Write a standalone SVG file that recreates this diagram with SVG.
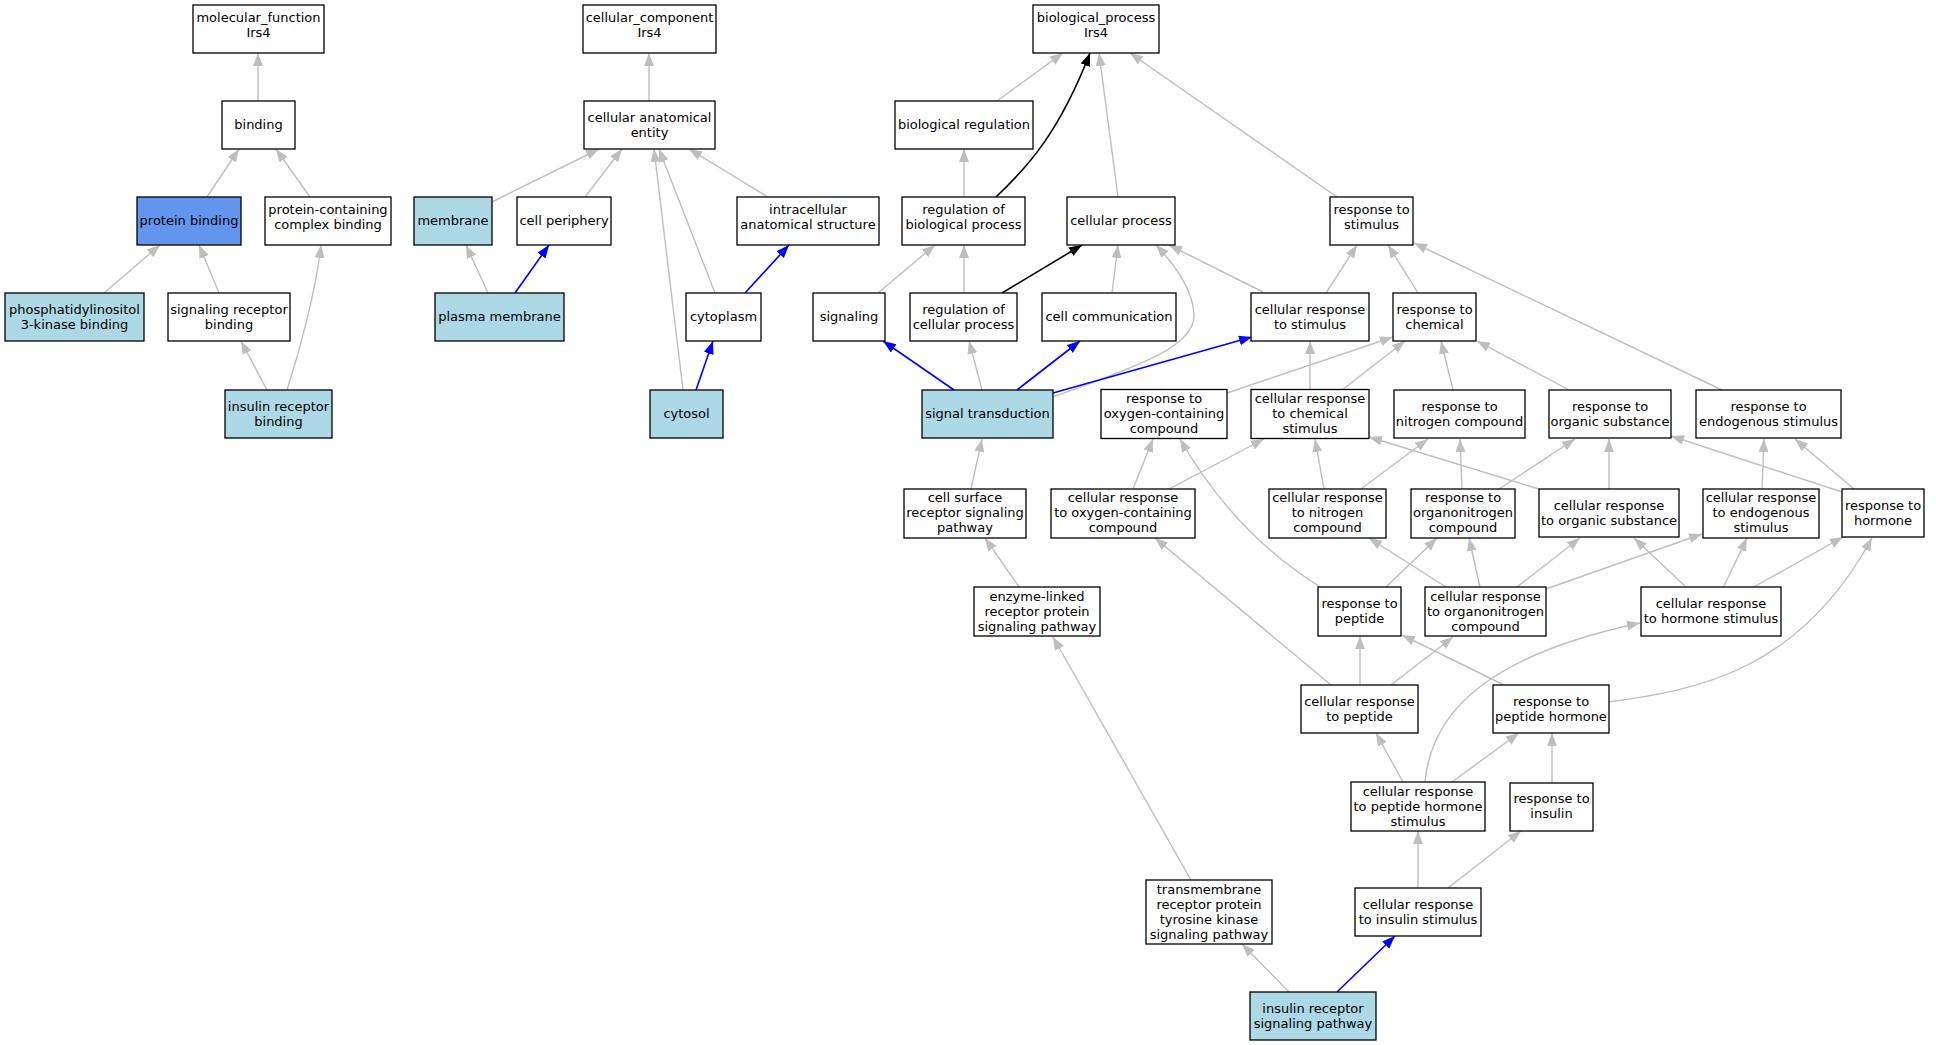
<svg xmlns="http://www.w3.org/2000/svg" width="1936" height="1045" viewBox="0 0 1936 1045">
<style>
.n rect{fill:#fff;stroke:#000;stroke-width:1.3}
.n.lb rect{fill:#add8e6}
.n.cb rect{fill:#6495ed}
.n text{font-family:"DejaVu Sans",sans-serif;font-size:13px;fill:#000;text-anchor:middle}
.e{fill:none;stroke:#bebebe;stroke-width:1.4;marker-end:url(#ag)}
.eb{fill:none;stroke:#0000ff;stroke-width:1.6;marker-end:url(#ab)}
.ek{fill:none;stroke:#000;stroke-width:1.6;marker-end:url(#ak)}
</style>
<defs>
<marker id="ag" markerUnits="userSpaceOnUse" markerWidth="14" markerHeight="11" refX="13" refY="5" orient="auto"><path d="M0,0L13,5L0,10z" fill="#bebebe"/></marker>
<marker id="ab" markerUnits="userSpaceOnUse" markerWidth="14" markerHeight="11" refX="13" refY="5" orient="auto"><path d="M0,0L13,5L0,10z" fill="#0000ff"/></marker>
<marker id="ak" markerUnits="userSpaceOnUse" markerWidth="14" markerHeight="11" refX="13" refY="5" orient="auto"><path d="M0,0L13,5L0,10z" fill="#000"/></marker>
</defs>
<rect width="1936" height="1045" fill="#fff"/>
<g id="edges">
<path class="e" d="M258,101L258,53"/>
<path class="e" d="M207,197L239,149"/>
<path class="e" d="M310,197L276,149"/>
<path class="e" d="M104,293L160,245"/>
<path class="e" d="M219,293L199,245"/>
<path class="e" d="M267,390L241,341"/>
<path class="e" d="M287,390C300,350 316,290 321,245"/>
<path class="e" d="M649,101L649,53"/>
<path class="e" d="M492,202L599,149"/>
<path class="e" d="M585,197L622,149"/>
<path class="e" d="M768,197L689,149"/>
<path class="e" d="M715,293L659,149"/>
<path class="e" d="M683,390L654,149"/>
<path class="e" d="M488,293L466,245"/>
<path class="eb" d="M515,293L549,245"/>
<path class="eb" d="M745,293L789,245"/>
<path class="eb" d="M696,390L713,341"/>
<path class="e" d="M997,101L1063,53"/>
<path class="ek" d="M996,197C1030,165 1060,130 1090,53"/>
<path class="e" d="M1118,197L1099,53"/>
<path class="e" d="M1337,197L1130,53"/>
<path class="e" d="M964,197L964,149"/>
<path class="e" d="M878,293L935,245"/>
<path class="e" d="M964,293L964,245"/>
<path class="ek" d="M1002,293L1082,245"/>
<path class="e" d="M1112,293L1118,245"/>
<path class="e" d="M1053,397C1120,372 1195,350 1194,315C1193,290 1175,265 1156,245"/>
<path class="e" d="M1263,292L1169,245"/>
<path class="eb" d="M954,390L883,341"/>
<path class="e" d="M982,390L969,341"/>
<path class="eb" d="M1017,390L1080,341"/>
<path class="eb" d="M1053,393L1252,337"/>
<path class="e" d="M1326,293L1357,245"/>
<path class="e" d="M1418,293L1388,245"/>
<path class="e" d="M1722,390L1414,243"/>
<path class="e" d="M1227,393L1393,337"/>
<path class="e" d="M1310,390L1310,341"/>
<path class="e" d="M1342,390L1405,341"/>
<path class="e" d="M1453,390L1441,341"/>
<path class="e" d="M1569,390L1477,341"/>
<path class="e" d="M971,489L982,439"/>
<path class="e" d="M1133,489L1153,439"/>
<path class="e" d="M1169,489L1264,439"/>
<path class="e" d="M1322,588C1260,550 1215,500 1180,439"/>
<path class="e" d="M1324,489L1315,439"/>
<path class="e" d="M1361,489L1428,439"/>
<path class="e" d="M1539,489L1369,437"/>
<path class="e" d="M1462,489L1460,439"/>
<path class="e" d="M1499,489L1575,439"/>
<path class="e" d="M1609,489L1609,439"/>
<path class="e" d="M1842,492L1671,436"/>
<path class="e" d="M1762,489L1764,439"/>
<path class="e" d="M1854,489L1795,439"/>
<path class="e" d="M1385,588L1437,538"/>
<path class="e" d="M1446,587L1369,538"/>
<path class="e" d="M1480,587L1469,538"/>
<path class="e" d="M1517,587L1580,538"/>
<path class="e" d="M1546,589L1702,534"/>
<path class="e" d="M1687,588L1634,538"/>
<path class="e" d="M1723,588L1747,538"/>
<path class="e" d="M1752,588L1843,537"/>
<path class="e" d="M1608,702C1700,690 1800,670 1872,538"/>
<path class="e" d="M1425,782C1432,710 1490,655 1640,623"/>
<path class="e" d="M1504,685L1402,635"/>
<path class="e" d="M1360,685L1360,636"/>
<path class="e" d="M1391,685L1453,637"/>
<path class="e" d="M1331,685L1155,538"/>
<path class="e" d="M1019,587L985,538"/>
<path class="e" d="M1191,880L1053,637"/>
<path class="e" d="M1403,782L1376,733"/>
<path class="e" d="M1452,782L1519,733"/>
<path class="e" d="M1552,783L1552,733"/>
<path class="e" d="M1418,888L1418,831"/>
<path class="e" d="M1448,888L1521,831"/>
<path class="e" d="M1289,992L1242,944"/>
<path class="eb" d="M1337,992L1395,936"/>
</g>
<g id="mf_root" class="n"><rect x="193" y="5" width="131" height="48"/><text><tspan x="258.5" y="21.5">molecular_function</tspan><tspan x="258.5" y="36.5">Irs4</tspan></text></g>
<g id="binding" class="n"><rect x="222" y="101" width="73" height="48"/><text x="258.5" y="129">binding</text></g>
<g id="protein_binding" class="n cb"><rect x="137" y="197" width="104" height="48"/><text x="189" y="225">protein binding</text></g>
<g id="pccb" class="n"><rect x="265" y="197" width="126" height="48"/><text><tspan x="328" y="213.5">protein-containing</tspan><tspan x="328" y="228.5">complex binding</tspan></text></g>
<g id="pi3k" class="n lb"><rect x="5" y="293" width="139" height="48"/><text><tspan x="74.5" y="313.5">phosphatidylinositol</tspan><tspan x="74.5" y="328.5">3-kinase binding</tspan></text></g>
<g id="srb" class="n"><rect x="168" y="293" width="122" height="48"/><text><tspan x="229" y="313.5">signaling receptor</tspan><tspan x="229" y="328.5">binding</tspan></text></g>
<g id="irb" class="n lb"><rect x="225" y="390" width="107" height="48"/><text><tspan x="278.5" y="410.5">insulin receptor</tspan><tspan x="278.5" y="425.5">binding</tspan></text></g>
<g id="cc_root" class="n"><rect x="583" y="5" width="133" height="48"/><text><tspan x="649.5" y="21.5">cellular_component</tspan><tspan x="649.5" y="36.5">Irs4</tspan></text></g>
<g id="cae" class="n"><rect x="584" y="101" width="131" height="48"/><text><tspan x="649.5" y="121.5">cellular anatomical</tspan><tspan x="649.5" y="136.5">entity</tspan></text></g>
<g id="membrane" class="n lb"><rect x="414" y="197" width="78" height="48"/><text x="453" y="225">membrane</text></g>
<g id="cell_periphery" class="n"><rect x="517" y="197" width="94" height="48"/><text x="564" y="225">cell periphery</text></g>
<g id="ias" class="n"><rect x="737" y="197" width="142" height="48"/><text><tspan x="808" y="213.5">intracellular</tspan><tspan x="808" y="228.5">anatomical structure</tspan></text></g>
<g id="plasma_membrane" class="n lb"><rect x="435" y="293" width="129" height="48"/><text x="499.5" y="321">plasma membrane</text></g>
<g id="cytoplasm" class="n"><rect x="686" y="293" width="75" height="48"/><text x="723.5" y="321">cytoplasm</text></g>
<g id="cytosol" class="n lb"><rect x="650" y="390" width="73" height="48"/><text x="686.5" y="418">cytosol</text></g>
<g id="bp_root" class="n"><rect x="1033" y="5" width="126" height="48"/><text><tspan x="1096" y="21.5">biological_process</tspan><tspan x="1096" y="36.5">Irs4</tspan></text></g>
<g id="bio_reg" class="n"><rect x="895" y="101" width="138" height="48"/><text x="964" y="129">biological regulation</text></g>
<g id="reg_bp" class="n"><rect x="902" y="197" width="123" height="48"/><text><tspan x="963.5" y="213.5">regulation of</tspan><tspan x="963.5" y="228.5">biological process</tspan></text></g>
<g id="cellular_process" class="n"><rect x="1067" y="197" width="108" height="48"/><text x="1121" y="225">cellular process</text></g>
<g id="resp_stim" class="n"><rect x="1330" y="197" width="83" height="48"/><text><tspan x="1371.5" y="213.5">response to</tspan><tspan x="1371.5" y="228.5">stimulus</tspan></text></g>
<g id="signaling" class="n"><rect x="813" y="293" width="72" height="48"/><text x="849" y="321">signaling</text></g>
<g id="reg_cp" class="n"><rect x="910" y="293" width="107" height="48"/><text><tspan x="963.5" y="313.5">regulation of</tspan><tspan x="963.5" y="328.5">cellular process</tspan></text></g>
<g id="cell_comm" class="n"><rect x="1042" y="293" width="134" height="48"/><text x="1109" y="321">cell communication</text></g>
<g id="cr_stim" class="n"><rect x="1251" y="293" width="118" height="48"/><text><tspan x="1310" y="313.5">cellular response</tspan><tspan x="1310" y="328.5">to stimulus</tspan></text></g>
<g id="resp_chem" class="n"><rect x="1393" y="293" width="83" height="48"/><text><tspan x="1434.5" y="313.5">response to</tspan><tspan x="1434.5" y="328.5">chemical</tspan></text></g>
<g id="signal_trans" class="n lb"><rect x="922" y="390" width="131" height="48"/><text x="987.5" y="418">signal transduction</text></g>
<g id="resp_oxy" class="n"><rect x="1101" y="389.5" width="126" height="49"/><text><tspan x="1164" y="403">response to</tspan><tspan x="1164" y="418">oxygen-containing</tspan><tspan x="1164" y="433">compound</tspan></text></g>
<g id="cr_chem" class="n"><rect x="1251" y="389.5" width="118" height="49"/><text><tspan x="1310" y="403">cellular response</tspan><tspan x="1310" y="418">to chemical</tspan><tspan x="1310" y="433">stimulus</tspan></text></g>
<g id="resp_nitro" class="n"><rect x="1394" y="390" width="131" height="48"/><text><tspan x="1459.5" y="410.5">response to</tspan><tspan x="1459.5" y="425.5">nitrogen compound</tspan></text></g>
<g id="resp_org" class="n"><rect x="1549" y="390" width="122" height="48"/><text><tspan x="1610" y="410.5">response to</tspan><tspan x="1610" y="425.5">organic substance</tspan></text></g>
<g id="resp_endo" class="n"><rect x="1696" y="390" width="145" height="48"/><text><tspan x="1768.5" y="410.5">response to</tspan><tspan x="1768.5" y="425.5">endogenous stimulus</tspan></text></g>
<g id="csrsp" class="n"><rect x="904" y="489" width="122" height="49"/><text><tspan x="965" y="502">cell surface</tspan><tspan x="965" y="517">receptor signaling</tspan><tspan x="965" y="532">pathway</tspan></text></g>
<g id="cr_oxy" class="n"><rect x="1051" y="489" width="144" height="49"/><text><tspan x="1123" y="502">cellular response</tspan><tspan x="1123" y="517">to oxygen-containing</tspan><tspan x="1123" y="532">compound</tspan></text></g>
<g id="cr_nitro" class="n"><rect x="1269" y="489" width="117" height="49"/><text><tspan x="1327.5" y="502">cellular response</tspan><tspan x="1327.5" y="517">to nitrogen</tspan><tspan x="1327.5" y="532">compound</tspan></text></g>
<g id="resp_orgn" class="n"><rect x="1411" y="489" width="104" height="49"/><text><tspan x="1463" y="502">response to</tspan><tspan x="1463" y="517">organonitrogen</tspan><tspan x="1463" y="532">compound</tspan></text></g>
<g id="cr_org" class="n"><rect x="1539" y="489" width="140" height="48"/><text><tspan x="1609" y="509.5">cellular response</tspan><tspan x="1609" y="524.5">to organic substance</tspan></text></g>
<g id="cr_endo" class="n"><rect x="1703" y="489" width="116" height="49"/><text><tspan x="1761" y="502">cellular response</tspan><tspan x="1761" y="517">to endogenous</tspan><tspan x="1761" y="532">stimulus</tspan></text></g>
<g id="resp_horm" class="n"><rect x="1842" y="489" width="82" height="48"/><text><tspan x="1883" y="509.5">response to</tspan><tspan x="1883" y="524.5">hormone</tspan></text></g>
<g id="elrpsp" class="n"><rect x="974" y="587" width="126" height="49"/><text><tspan x="1037" y="600.5">enzyme-linked</tspan><tspan x="1037" y="615.5">receptor protein</tspan><tspan x="1037" y="630.5">signaling pathway</tspan></text></g>
<g id="resp_pep" class="n"><rect x="1318" y="587" width="83" height="49"/><text><tspan x="1359.5" y="608">response to</tspan><tspan x="1359.5" y="623">peptide</tspan></text></g>
<g id="cr_orgn" class="n"><rect x="1425" y="587" width="121" height="49"/><text><tspan x="1485.5" y="600.5">cellular response</tspan><tspan x="1485.5" y="615.5">to organonitrogen</tspan><tspan x="1485.5" y="630.5">compound</tspan></text></g>
<g id="cr_horm" class="n"><rect x="1641" y="587" width="140" height="49"/><text><tspan x="1711" y="608">cellular response</tspan><tspan x="1711" y="623">to hormone stimulus</tspan></text></g>
<g id="cr_pep" class="n"><rect x="1301" y="685" width="117" height="48"/><text><tspan x="1359.5" y="705.5">cellular response</tspan><tspan x="1359.5" y="720.5">to peptide</tspan></text></g>
<g id="resp_pephorm" class="n"><rect x="1493" y="685" width="116" height="48"/><text><tspan x="1551" y="705.5">response to</tspan><tspan x="1551" y="720.5">peptide hormone</tspan></text></g>
<g id="cr_pephorm" class="n"><rect x="1351" y="782" width="134" height="49"/><text><tspan x="1418" y="795.5">cellular response</tspan><tspan x="1418" y="810.5">to peptide hormone</tspan><tspan x="1418" y="825.5">stimulus</tspan></text></g>
<g id="resp_ins" class="n"><rect x="1510" y="783" width="83" height="48"/><text><tspan x="1551.5" y="803">response to</tspan><tspan x="1551.5" y="818">insulin</tspan></text></g>
<g id="tmrptksp" class="n"><rect x="1146" y="880" width="126" height="64"/><text><tspan x="1209" y="893.5">transmembrane</tspan><tspan x="1209" y="908.5">receptor protein</tspan><tspan x="1209" y="923.5">tyrosine kinase</tspan><tspan x="1209" y="938.5">signaling pathway</tspan></text></g>
<g id="cr_ins" class="n"><rect x="1355" y="888" width="126" height="48"/><text><tspan x="1418" y="908.5">cellular response</tspan><tspan x="1418" y="923.5">to insulin stimulus</tspan></text></g>
<g id="irsp" class="n lb"><rect x="1250" y="992" width="126" height="48"/><text><tspan x="1313" y="1012.5">insulin receptor</tspan><tspan x="1313" y="1027.5">signaling pathway</tspan></text></g>
</svg>
